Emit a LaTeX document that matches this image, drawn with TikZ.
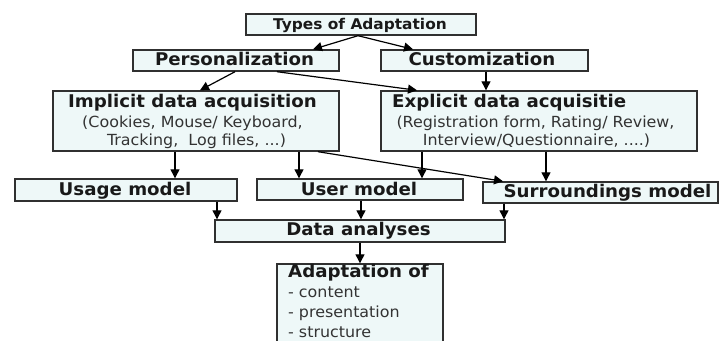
\documentclass[tikz,border=0pt]{standalone}
\usepackage{fontspec}
\setmainfont{DejaVu Sans}[FakeStretch=1.04]
\usetikzlibrary{arrows.meta}
\definecolor{boxfill}{HTML}{EEF8F8}
\definecolor{boxline}{HTML}{303030}
\begin{document}
\begin{tikzpicture}[x=1pt,y=-1pt,
  box/.style={draw=boxline, line width=1.4pt, fill=boxfill, inner sep=0pt, anchor=center},
  ttl/.style={font=\fontsize{17.5}{18}\selectfont\bfseries, inner sep=0pt, text=black!90},
  sml/.style={font=\fontsize{14.8}{16}\selectfont\bfseries, inner sep=0pt, text=black!90},
  sub/.style={font=\fontsize{15.3}{16}\selectfont, inner sep=0pt, text=black!80},
  arr/.style={-{Triangle[length=9pt,width=9pt]}, line width=1.2pt, black}]
\useasboundingbox (0,0) rectangle (725,340);
\clip (0,0) rectangle (725,340);
% boxes
\node[box, minimum width=230pt, minimum height=21pt] (types) at (361,24.5) {};
\node[box, minimum width=206pt, minimum height=21pt] (pers) at (236,60.5) {};
\node[box, minimum width=207pt, minimum height=21pt] (cust) at (484.5,60.5) {};
\node[box, minimum width=286pt, minimum height=60pt] (impl) at (196,121) {};
\node[box, minimum width=316pt, minimum height=60pt] (expl) at (539,121) {};
\node[box, minimum width=222pt, minimum height=22pt] (usage) at (126,190) {};
\node[box, minimum width=206pt, minimum height=21pt] (user) at (360,189.5) {};
\node[box, minimum width=235pt, minimum height=21pt] (surr) at (600.5,192.5) {};
\node[box, minimum width=290pt, minimum height=22pt] (data) at (360,231) {};
\node[box, minimum width=166pt, minimum height=90pt] (adapt) at (360,309) {};
% texts
\node[sml, anchor=base] (typesT) at (360,29) {Types of Adaptation};
\node[ttl, anchor=base] (persT) at (234.5,65.5) {Personalization};
\node[ttl, anchor=base] (custT) at (482,65.5) {Customization};
\node[ttl, anchor=base] (implT) at (192.5,107.5) {Implicit data acquisition};
\node[sub, anchor=base] (implA) at (192.5,127.5) {(Cookies, Mouse/ Keyboard,};
\node[sub, anchor=base] (implB) at (196.5,145.5) {Tracking,\ \ Log files, ...)};
\node[ttl, anchor=base west] (explT) at (392,107.5) {Explicit data acquisitie};
\node[sub, anchor=base] (explA) at (535.5,127.5) {(Registration form, Rating/ Review,};
\node[sub, anchor=base] (explB) at (536.5,145.5) {Interview/Questionnaire, ....)};
\node[ttl, anchor=base] (usageT) at (125,195) {Usage model};
\node[ttl, anchor=base] (userT) at (359,195.5) {User model};
\node[ttl, anchor=base] (surrT) at (607.5,197) {Surroundings model};
\node[ttl, anchor=base] (dataT) at (358.5,235) {Data analyses};
\node[ttl, anchor=base west] (adaptT) at (288,277.5) {Adaptation of};
\node[sub, anchor=base west] (adaptA) at (288,297) {- content};
\node[sub, anchor=base west] (adaptB) at (288,317) {- presentation};
\node[sub, anchor=base west] (adaptC) at (288,337) {- structure};
% arrows
\draw[arr] ([xshift=-3pt]types.south) -- ([xshift=77pt]pers.north);
\draw[arr] ([xshift=-3pt]types.south) -- ([xshift=-71.5pt]cust.north);
\draw[arr] ([xshift=-1pt]pers.south) -- ([xshift=4pt]impl.north);
\draw[arr] ([xshift=41pt]pers.south) -- ([xshift=-122pt]expl.north);
\draw[arr] ([xshift=1.5pt]cust.south) -- ([xshift=-53pt]expl.north);
\draw[arr] ([xshift=-21pt]impl.south) -- ([xshift=49pt]usage.north);
\draw[arr] ([xshift=103pt]impl.south) -- ([xshift=-61pt]user.north);
\draw[arr] ([xshift=122pt]impl.south) -- ([xshift=-97.5pt]surr.north);
\draw[arr] ([xshift=-117pt]expl.south) -- ([xshift=62pt]user.north);
\draw[arr] ([xshift=7pt]expl.south) -- ([xshift=-54.5pt]surr.north);
\draw[arr] ([xshift=91pt]usage.south) -- ([xshift=-143pt]data.north);
\draw[arr] ([xshift=1pt]user.south) -- ([xshift=1pt]data.north);
\draw[arr] ([xshift=-96.5pt]surr.south) -- ([xshift=144pt]data.north);
\draw[arr] (data.south) -- (adapt.north);
\end{tikzpicture}
\end{document}
